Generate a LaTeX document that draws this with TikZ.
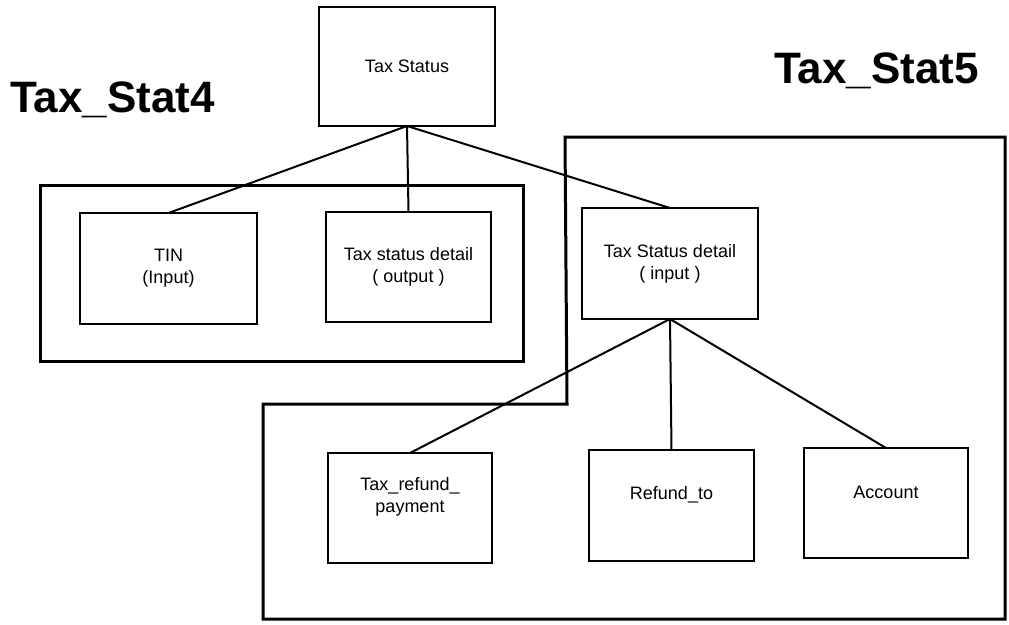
\documentclass[tikz,border=0pt]{standalone}
\usepackage{fontspec}
\setmainfont{Liberation Sans}
\begin{document}
\begin{tikzpicture}[x=1pt,y=-1pt,
  entbox/.style={draw,line width=1.3pt,rectangle,inner sep=0pt,outer sep=0pt,
    font=\fontsize{18}{22}\selectfont,align=center},
  txt/.style={inner sep=0pt,font=\fontsize{18}{22}\selectfont,align=center},
  grp/.style={draw,line width=3pt,line join=miter},
  conn/.style={draw,line width=2pt},
  biglabel/.style={inner sep=0pt,anchor=base west,font=\fontsize{44}{50}\selectfont\bfseries}]
\useasboundingbox (0,0) rectangle (1009,624);
\fill[white] (0,0) rectangle (1009,624);
% group outlines
\draw[grp] (40,185) rectangle (523,361);
\draw[grp] (565,137) -- (1005,137) -- (1005,619) -- (263,619) -- (263,404) -- (567,404) -- cycle;
% group labels
\node[biglabel] (lab4) at (10,112) {Tax\_Stat4};
\node[biglabel] (lab5) at (774,83) {Tax\_Stat5};
% entity boxes
\node[entbox,minimum width=176pt,minimum height=119pt] (ts) at (407,66.5) {Tax Status};
\node[entbox,minimum width=177pt,minimum height=111pt] (tin) at (168.5,268.5) {TIN\\(Input)};
\node[entbox,minimum width=165pt,minimum height=110pt] (tsout) at (408.5,267) {Tax status detail\\( output )};
\node[entbox,minimum width=176pt,minimum height=111pt] (tsin) at (670,263.5) {Tax Status detail\\( input )};
\node[entbox,minimum width=164pt,minimum height=110pt] (ref) at (410,508) {};
\node[entbox,minimum width=165pt,minimum height=111pt] (rto) at (671.5,505.5) {};
\node[entbox,minimum width=164pt,minimum height=110pt] (acc) at (886,503) {};
\node[txt] (reftxt) at ([yshift=11pt]ref.center) {Tax\_refund\_\\payment};
\node[txt] (rtotxt) at ([yshift=11pt]rto.center) {Refund\_to};
\node[txt] (acctxt) at ([yshift=11pt]acc.center) {Account};
% connectors
\draw[conn] (ts.south) -- (tin.north);
\draw[conn] (ts.south) -- (tsout.north);
\draw[conn] (ts.south) -- (tsin.north);
\draw[conn] (tsin.south) -- (ref.north);
\draw[conn] (tsin.south) -- (rto.north);
\draw[conn] (tsin.south) -- (acc.north);
\end{tikzpicture}
\end{document}
